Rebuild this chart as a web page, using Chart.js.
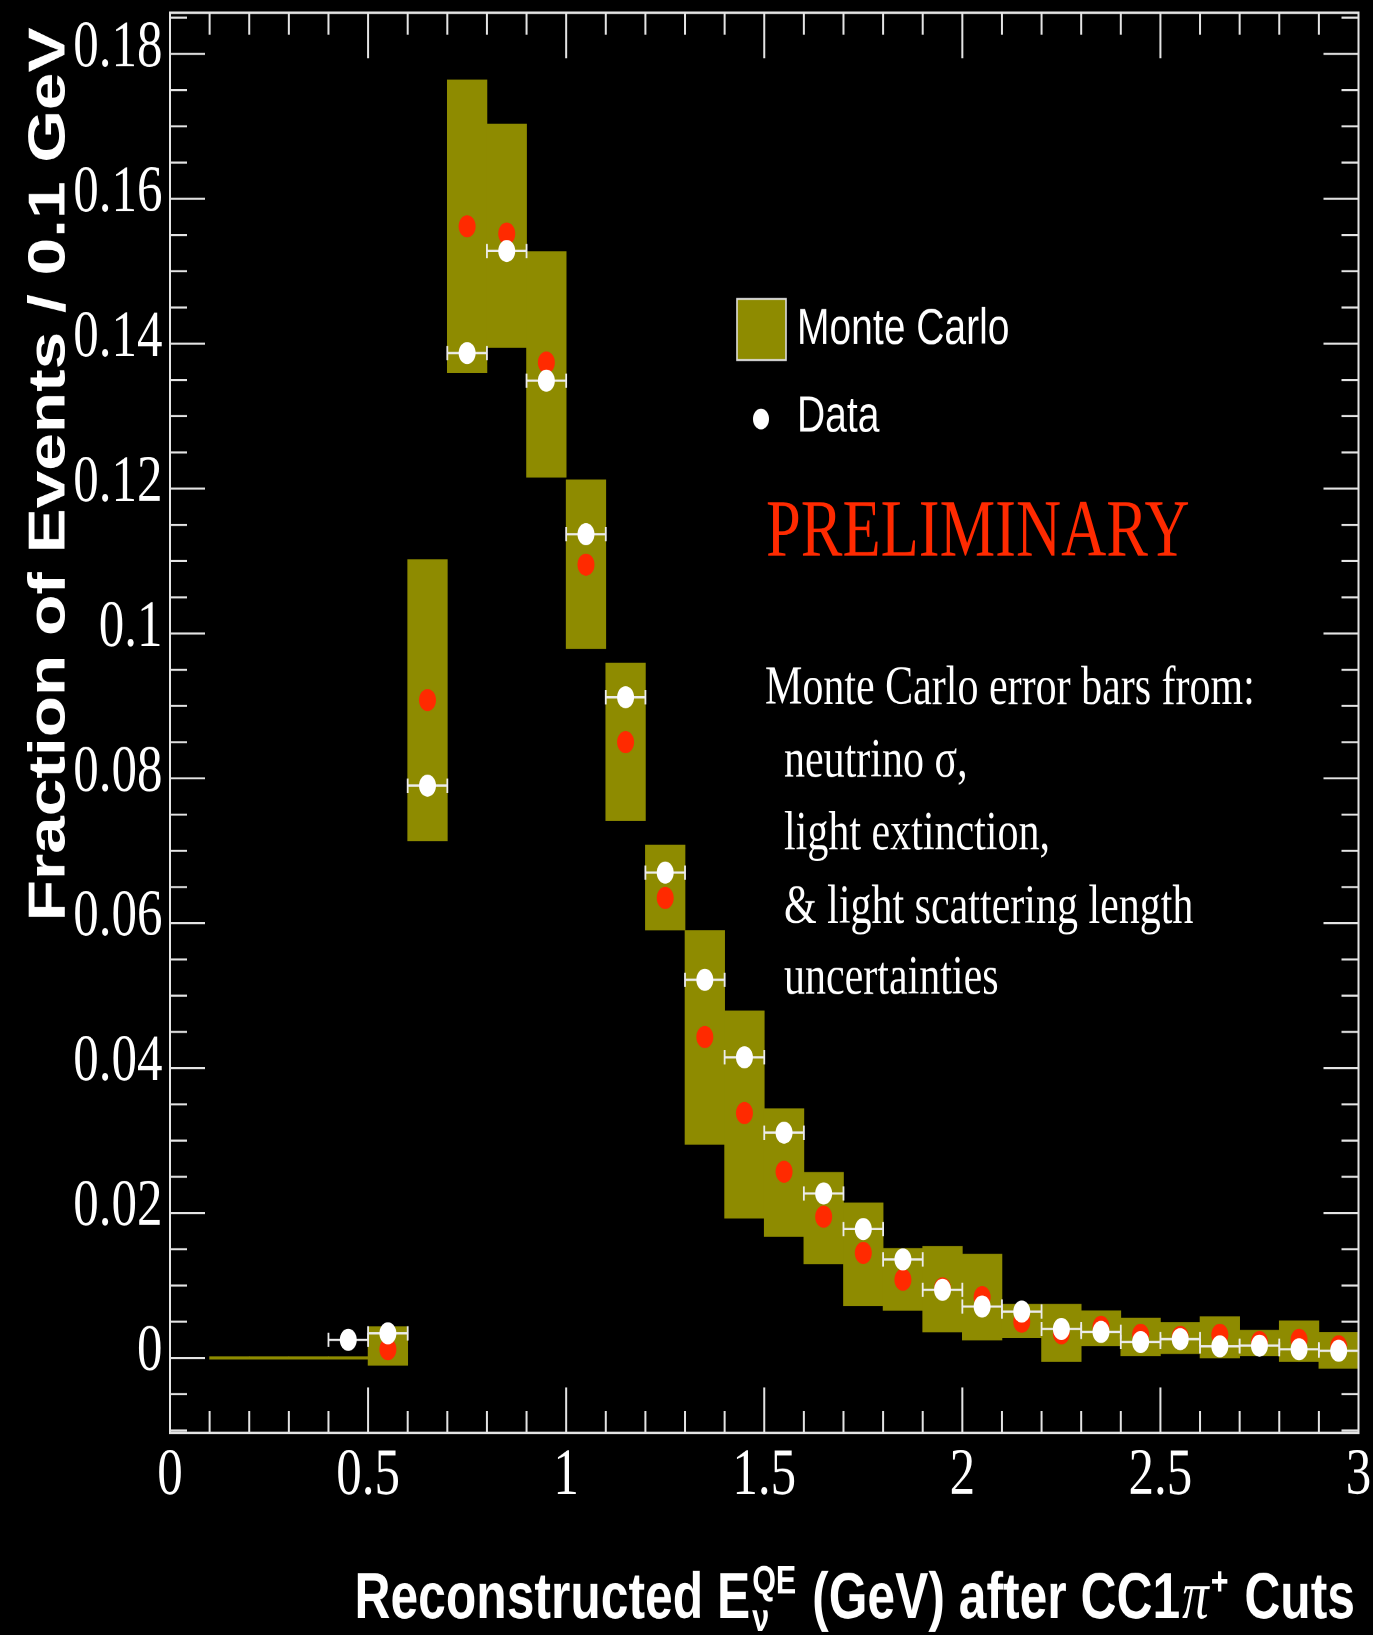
<!DOCTYPE html>
<html>
<head>
<meta charset="utf-8">
<script src="https://cdn.jsdelivr.net/npm/chart.js@4.4.1/dist/chart.umd.min.js"></script>
<style>
  html, body { margin: 0; padding: 0; background: #000; width: 1373px; height: 1635px; overflow: hidden; }
  /* the original plot is stretched vertically, so draw it squat and stretch it back */
  #stretch { width: 1373px; height: 1258px; transform: scaleY(1.2997); transform-origin: 0 0; }
</style>
</head>
<body>
<div id="stretch"><canvas id="spectrum" width="1373" height="1258"></canvas></div>
<script>
// 0.1 GeV bins, reconstructed E_nu^QE
var binCentres = [0.15, 0.25, 0.35, 0.45, 0.55, 0.65, 0.75, 0.85, 0.95, 1.05,
                  1.15, 1.25, 1.35, 1.45, 1.55, 1.65, 1.75, 1.85, 1.95, 2.05,
                  2.15, 2.25, 2.35, 2.45, 2.55, 2.65, 2.75, 2.85, 2.95];
// Monte Carlo error band (low / high edge) and central value
var mcLow = [0, 0, 0, 0, -0.0010, 0.0714, 0.1360, 0.1395, 0.1216, 0.0979,
             0.0742, 0.0591, 0.0295, 0.0193, 0.0168, 0.0130, 0.0072, 0.0066, 0.0036, 0.0025,
             0.0028, -0.0005, 0.0017, 0.0003, 0.0006, 0.0000, 0.0003, -0.0005, -0.0014];
var mcHigh = [0, 0, 0, 0, 0.0043, 0.1102, 0.1764, 0.1703, 0.1527, 0.1212,
              0.0959, 0.0708, 0.0590, 0.0479, 0.0344, 0.0256, 0.0214, 0.0151, 0.0154, 0.0143,
              0.0074, 0.0074, 0.0065, 0.0055, 0.0049, 0.0057, 0.0038, 0.0051, 0.0035];
var mcCentral = [null, null, null, null, 0.0012, 0.0908, 0.1562, 0.1552, 0.1374, 0.1095,
                 0.0850, 0.0635, 0.0443, 0.0338, 0.0257, 0.0195, 0.0145, 0.0108, 0.0096, 0.0084,
                 0.0050, 0.0034, 0.0043, 0.0032, 0.0029, 0.0032, 0.0022, 0.0025, 0.0016];
var dataFraction = [null, null, null, 0.0025, 0.0034, 0.0790, 0.1387, 0.1528, 0.1349, 0.1137,
                    0.0912, 0.0670, 0.0522, 0.0415, 0.0311, 0.0227, 0.0178, 0.0136, 0.0094, 0.0071,
                    0.0064, 0.0040, 0.0036, 0.0022, 0.0026, 0.0016, 0.0017, 0.0012, 0.0010];
var binWidth = 0.1;

var xTickLabels = [0, 0.5, 1, 1.5, 2, 2.5, 3];
var yTickLabels = [0, 0.02, 0.04, 0.06, 0.08, 0.1, 0.12, 0.14, 0.16, 0.18];

var noteLines = ['Monte Carlo error bars from:', 'neutrino \u03c3,', 'light extinction,',
                 '& light scattering length', 'uncertainties'];

var olive = '#8e8b00';
var red = '#ff2a00';
var frameColour = '#e4e4e4';
var serif = '"Liberation Serif", "Times New Roman", serif';
var sans = '"Liberation Sans", Arial, sans-serif';

var bandPoints = binCentres.map(function (c, i) { return {x: c, y: [mcLow[i], mcHigh[i]]}; });
var mcPoints = [];
var dataPoints = [];
binCentres.forEach(function (c, i) {
    if (mcCentral[i] !== null) mcPoints.push({x: c, y: mcCentral[i]});
    if (dataFraction[i] !== null) dataPoints.push({x: c, y: dataFraction[i]});
});

var fmt = function (v) { return String(+v.toFixed(3)); };

// ROOT style ticks pointing into the frame on all four sides
var axisTicks = {
    id: 'axisTicks',
    beforeDatasetsDraw: function (chart) {
        var ctx = chart.ctx, a = chart.chartArea, xs = chart.scales.x, ys = chart.scales.y;
        ctx.save();
        ctx.strokeStyle = frameColour;
        ctx.lineWidth = 1.6;
        ctx.beginPath();
        for (var k = -2; k <= 37; k++) {
            var v = k * 0.005;
            var p = ys.getPixelForValue(v);
            if (p < a.top || p > a.bottom) continue;
            var len = (k % 4 === 0) ? 35 : 17;
            ctx.moveTo(a.left, p); ctx.lineTo(a.left + len, p);
            ctx.moveTo(a.right, p); ctx.lineTo(a.right - len, p);
        }
        ctx.stroke();
        ctx.lineWidth = 2;
        ctx.beginPath();
        for (var j = 0; j <= 30; j++) {
            var q = xs.getPixelForValue(j * 0.1);
            var l = (j % 5 === 0) ? 35 : 17;
            ctx.moveTo(q, a.bottom); ctx.lineTo(q, a.bottom - l);
            ctx.moveTo(q, a.top); ctx.lineTo(q, a.top + l);
        }
        ctx.stroke();
        ctx.restore();
    }
};

var errorBars = {
    id: 'errorBars',
    beforeDatasetDraw: function (chart, args) {
        if (chart.data.datasets[args.index].label !== 'Data') return;
        var ctx = chart.ctx, xs = chart.scales.x, ys = chart.scales.y;
        ctx.save();
        ctx.strokeStyle = '#ececec';
        ctx.lineWidth = 1.8;
        dataPoints.forEach(function (p) {
            var x0 = xs.getPixelForValue(p.x - binWidth / 2);
            var x1 = xs.getPixelForValue(p.x + binWidth / 2);
            var py = ys.getPixelForValue(p.y);
            ctx.beginPath();
            ctx.moveTo(x0, py); ctx.lineTo(x1, py);
            ctx.moveTo(x0, py - 5.5); ctx.lineTo(x0, py + 5.5);
            ctx.moveTo(x1, py - 5.5); ctx.lineTo(x1, py + 5.5);
            ctx.stroke();
        });
        ctx.restore();
    }
};

var decorations = {
    id: 'decorations',
    afterDatasetsDraw: function (chart) {
        var ctx = chart.ctx, a = chart.chartArea;
        ctx.save();
        ctx.strokeStyle = frameColour;
        ctx.lineWidth = 2;
        ctx.strokeRect(a.left, a.top, a.right - a.left, a.bottom - a.top);
        ctx.restore();
    },
    afterDraw: function (chart) {
        var ctx = chart.ctx;
        var ds = chart.data.datasets;
        ctx.save();
        ctx.textBaseline = 'alphabetic';
        ctx.textAlign = 'left';

        // legend
        ctx.fillStyle = ds[2].backgroundColor;
        ctx.fillRect(737, 230, 49, 47);
        ctx.strokeStyle = '#dcdcdc';
        ctx.lineWidth = 1.6;
        ctx.strokeRect(737, 230, 49, 47);
        ctx.fillStyle = '#fff';
        ctx.font = '39px ' + sans;
        ctx.fillText(ds[2].label, 797, 264.7);
        ctx.fillStyle = ds[0].backgroundColor;
        ctx.beginPath();
        ctx.arc(761, 322.4, 8, 0, Math.PI * 2);
        ctx.fill();
        ctx.fillStyle = '#fff';
        ctx.fillText(ds[0].label, 797, 332);

        ctx.fillStyle = red;
        ctx.font = '62.5px ' + serif;
        ctx.fillText('PRELIMINARY', 766, 427.5);

        ctx.fillStyle = '#fff';
        ctx.font = '42px ' + serif;
        var noteY = [541.4, 597.6, 653.7, 709.9, 764.4];
        noteLines.forEach(function (t, i) {
            ctx.fillText(t, i === 0 ? 765 : 784, noteY[i]);
        });

        // y title
        ctx.save();
        ctx.translate(64.6, 365);
        ctx.rotate(-Math.PI / 2);
        ctx.textAlign = 'center';
        ctx.font = 'bold 52px ' + sans;
        ctx.fillText('Fraction of Events / 0.1 GeV', 0, 0);
        ctx.restore();

        // x title, right aligned to the frame
        var big = 'bold 49.8px ' + sans;
        var small = 'bold 30.5px ' + sans;
        var pieces = [
            {t: 'Reconstructed E', f: big, dy: 0},
            {t: 'QE', f: small, dy: -19, under: '\u03bd'},
            {t: ' (GeV) after CC1', f: big, dy: 0},
            {t: '\u03c0', f: 'italic 53px ' + serif, dy: 0},
            {t: '+', f: small, dy: -18},
            {t: ' Cuts', f: big, dy: 0}
        ];
        var total = 0;
        pieces.forEach(function (p) { ctx.font = p.f; p.w = ctx.measureText(p.t).width + 2; total += p.w; });
        var x = 1357 - total;
        var base = 1245;
        pieces.forEach(function (p) {
            ctx.font = p.f;
            ctx.fillText(p.t, x, base + p.dy);
            if (p.under) ctx.fillText(p.under, x, base + 10);
            x += p.w;
        });
        ctx.restore();
    }
};

new Chart(document.getElementById('spectrum'), {
    type: 'bar',
    data: {
        datasets: [{
            type: 'scatter',
            label: 'Data',
            data: dataPoints,
            order: 0,
            backgroundColor: '#ffffff',
            borderWidth: 0,
            pointRadius: 8.5,
            pointHoverRadius: 8.5
        }, {
            type: 'scatter',
            label: 'MC central value',
            data: mcPoints,
            order: 1,
            backgroundColor: red,
            borderWidth: 0,
            pointRadius: 8.5,
            pointHoverRadius: 8.5
        }, {
            label: 'Monte Carlo',
            data: bandPoints,
            order: 2,
            backgroundColor: olive,
            borderWidth: 0,
            barPercentage: 1,
            categoryPercentage: 1,
            minBarLength: 1.6
        }]
    },
    options: {
        responsive: false,
        devicePixelRatio: 2,
        animation: false,
        events: [],
        layout: { padding: { top: 9.8, right: 14.5, left: 0, bottom: 0 } },
        plugins: { legend: { display: false }, tooltip: { enabled: false } },
        scales: {
            x: {
                type: 'linear', min: 0, max: 3, offset: false,
                grid: { display: false, drawTicks: false },
                border: { display: false },
                afterBuildTicks: function (s) { s.ticks = xTickLabels.map(function (v) { return {value: v}; }); },
                afterFit: function (s) { s.height = 155.5; s.paddingLeft = 0; s.paddingRight = 0; },
                ticks: { color: '#fff', font: { family: serif, size: 51 }, padding: 3,
                         maxRotation: 0, autoSkip: false, callback: fmt }
            },
            y: {
                type: 'linear', min: -0.01035, max: 0.18568,
                grid: { display: false, drawTicks: false },
                border: { display: false },
                afterBuildTicks: function (s) { s.ticks = yTickLabels.map(function (v) { return {value: v}; }); },
                afterFit: function (s) { s.width = 170; s.paddingTop = 0; s.paddingBottom = 0; },
                ticks: { color: '#fff', font: { family: serif, size: 51 }, padding: 7.5,
                         labelOffset: -4, autoSkip: false, callback: fmt }
            }
        }
    },
    plugins: [axisTicks, errorBars, decorations]
});
</script>
</body>
</html>
